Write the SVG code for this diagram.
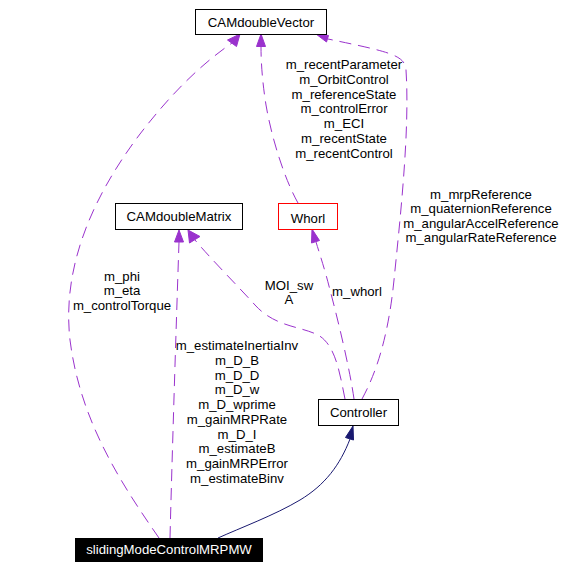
<svg xmlns="http://www.w3.org/2000/svg" width="580" height="569" viewBox="0 0 580 569">
<style>
text{font-family:"Liberation Sans",Arial,sans-serif;font-size:13.2px;fill:#000}
.n rect{fill:#fff;stroke:#000;stroke-width:1}
.lbl{text-anchor:middle}
.use path{fill:none;stroke:#9a32cd;stroke-width:1;stroke-dasharray:12,7}
.use polygon{fill:#9a32cd;stroke:#9a32cd}
.inh path{fill:none;stroke:#191970;stroke-width:1}
.inh polygon{fill:#191970;stroke:#191970}
</style>
<rect width="580" height="569" fill="#fff"/>
<g id="connectors">
<g class="use" id="e-sliding-vector">
<path d="M159,538 C120,482 80,420 70,340 C62,270 90,200 140,134 C170,95 200,65 232,43"/>
<polygon points="240,34 236.5,46.5 227.5,40"/>
</g>
<g class="use" id="e-sliding-matrix">
<path d="M170,538 C172,460 176,330 179,242"/>
<polygon points="179,230 174.5,242 183.5,242"/>
</g>
<g class="use" id="e-controller-matrix">
<path d="M345,399 C340,375 336,345 318,335 C300,326 275,327 255,305 C235,283 210,258 195,240"/>
<polygon points="188,230 189.5,243 200,236.5"/>
</g>
<g class="use" id="e-controller-whorl">
<path d="M354,399 C350,370 338,320 330,290 C325,270 320,255 316,242"/>
<polygon points="312,229 311.5,243 319.5,240.5"/>
</g>
<g class="use" id="e-controller-vector">
<path d="M362,399 C375,375 388,340 394,280 C400,220 410,130 406,70 C405,55 390,52 328,39"/>
<polygon points="316,34 328.5,35.5 326.5,42"/>
</g>
<g class="use" id="e-whorl-vector">
<path d="M298,203 C285,180 272,140 266,105 C262,80 261,60 261,47"/>
<polygon points="261,34 256.5,46.5 265.5,46.5"/>
</g>
<g class="inh" id="e-sliding-controller">
<path d="M218,538 C240,528 275,515 300,500 C325,485 340,465 350,439"/>
<polygon points="353,426 345.5,437.5 353.5,440"/>
</g>
<g id="labels" class="lbl">
<text x="344" y="69.3">m_recentParameter</text>
<text x="344" y="84">m_OrbitControl</text>
<text x="344" y="98.7">m_referenceState</text>
<text x="344" y="113.4">m_controlError</text>
<text x="344" y="128.1">m_ECI</text>
<text x="344" y="142.8">m_recentState</text>
<text x="344" y="157.5">m_recentControl</text>
<text x="481" y="198.5">m_mrpReference</text>
<text x="481" y="213">m_quaternionReference</text>
<text x="481" y="227.5">m_angularAccelReference</text>
<text x="481" y="242">m_angularRateReference</text>
<text x="122" y="281">m_phi</text>
<text x="122" y="295.3">m_eta</text>
<text x="122" y="309.5">m_controlTorque</text>
<text x="289" y="289.5">MOI_sw</text>
<text x="289" y="304">A</text>
<text x="357" y="295.5">m_whorl</text>
<text x="237" y="350">m_estimateInertiaInv</text>
<text x="237" y="364.8">m_D_B</text>
<text x="237" y="379.5">m_D_D</text>
<text x="237" y="394.3">m_D_w</text>
<text x="237" y="409">m_D_wprime</text>
<text x="237" y="423.8">m_gainMRPRate</text>
<text x="237" y="438.5">m_D_I</text>
<text x="237" y="453.3">m_estimateB</text>
<text x="237" y="468">m_gainMRPError</text>
<text x="237" y="482.8">m_estimateBinv</text>
</g>
</g>
<g id="CAMdoubleVector" class="n">
<rect x="195.5" y="9.5" width="131" height="25"/>
<text x="261" y="26.7" text-anchor="middle">CAMdoubleVector</text>
</g>
<g id="CAMdoubleMatrix" class="n">
<rect x="115.5" y="203.5" width="127" height="26"/>
<text x="179" y="221" text-anchor="middle">CAMdoubleMatrix</text>
</g>
<g id="Whorl" class="n">
<rect x="278.5" y="203.5" width="59" height="26" style="stroke:#ff0000"/>
<text x="308" y="222.5" text-anchor="middle">Whorl</text>
</g>
<g id="Controller" class="n">
<rect x="318.5" y="399.5" width="80" height="26"/>
<text x="358.5" y="416.7" text-anchor="middle">Controller</text>
</g>
<g id="slidingModeControlMRPMW">
<rect x="75" y="538" width="188" height="24" fill="#000"/>
<text x="169" y="554.3" text-anchor="middle" style="fill:#fff">slidingModeControlMRPMW</text>
</g>
</svg>
